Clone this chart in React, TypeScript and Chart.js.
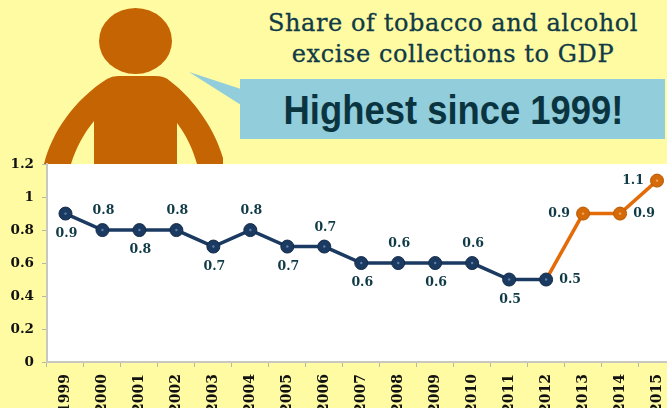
import React, { useEffect, useRef } from "react";
import { Chart, registerables } from "chart.js";

Chart.register(...registerables);

const years = ["1999","2000","2001","2002","2003","2004","2005","2006","2007","2008","2009","2010","2011","2012","2013","2014","2015"];
const shares = [0.9,0.8,0.8,0.8,0.7,0.8,0.7,0.7,0.6,0.6,0.6,0.6,0.5,0.5,0.9,0.9,1.1];
const labelTexts = ["0.9","0.8","0.8","0.8","0.7","0.8","0.7","0.7","0.6","0.6","0.6","0.6","0.5","0.5","0.9","0.9","1.1"];
const labelSides = ["below","above","below","above","below","above","below","above","below","above","below","above","below","right","left","right","left"];
const firstOrangeIndex = 14;

const NAVY = "#1b3a61";
const ORANGE = "#e36c09";
const TEXT = "#0f3a46";
const SERIF = "'DejaVu Serif', serif";

const plotBackground = {
  id: "plotBackground",
  beforeDraw(chart: any) {
    const { ctx, chartArea: a } = chart;
    ctx.save();
    ctx.fillStyle = "#ffffff";
    ctx.fillRect(a.left, a.top, a.right - a.left, a.bottom - a.top);
    ctx.restore();
  },
};

const pointLabels = {
  id: "pointLabels",
  afterDatasetsDraw(chart: any) {
    const { ctx } = chart;
    const pts = chart.getDatasetMeta(0).data;
    ctx.save();
    pts.forEach((p: any, i: number) => {
      ctx.fillStyle = i >= firstOrangeIndex ? "#f5a860" : "#5f7fa8";
      ctx.beginPath();
      ctx.arc(p.x, p.y, 1.2, 0, Math.PI * 2);
      ctx.fill();
      const side = labelSides[i];
      const dx = side === "left" ? -24 : side === "right" ? 24 : 1;
      const dy = side === "above" ? -19 : side === "below" ? 20 : 0;
      ctx.fillStyle = TEXT;
      ctx.font = `bold 12.5px ${SERIF}`;
      ctx.textAlign = "center";
      ctx.textBaseline = "middle";
      ctx.fillText(labelTexts[i], p.x + dx, p.y + dy);
    });
    ctx.restore();
  },
};

export default function App() {
  const ref = useRef<HTMLCanvasElement>(null);
  useEffect(() => {
    const chart = new Chart(ref.current!, {
      type: "line",
      data: {
        labels: years,
        datasets: [
          {
            data: shares,
            borderColor: NAVY,
            borderWidth: 3.5,
            tension: 0,
            clip: false,
            pointRadius: 6.5,
            pointBorderWidth: 1,
            pointBackgroundColor: shares.map((_, i) => (i >= firstOrangeIndex ? "#d46a08" : "#1b3a61")),
            pointBorderColor: shares.map((_, i) => (i >= firstOrangeIndex ? "#b85a05" : "#142c4a")),
            segment: {
              borderColor: (c: any) => (c.p1DataIndex >= firstOrangeIndex ? ORANGE : NAVY),
            },
          },
        ],
      },
      options: {
        responsive: false,
        animation: false,
        devicePixelRatio: 1,
        layout: { padding: { top: 11, left: 0, right: 0, bottom: 0 } },
        plugins: { legend: { display: false }, tooltip: { enabled: false }, title: { display: false } },
        scales: {
          x: {
            type: "category",
            offset: true,
            afterFit: (s: any) => { s.height = 68; },
            border: { color: "#c8c8c0", width: 2 },
            grid: { drawOnChartArea: false, drawTicks: true, tickLength: 5, color: "#b8b8a8", offset: true },
            ticks: {
              minRotation: 90,
              maxRotation: 90,
              autoSkip: false,
              padding: 7,
              color: "#111111",
              font: { family: SERIF, size: 14, weight: "bold" },
            },
          },
          y: {
            min: 0,
            max: 1.2,
            afterFit: (s: any) => { s.width = 47; },
            border: { color: "#c8c8c0", width: 2 },
            grid: { drawOnChartArea: false, drawTicks: true, tickLength: 5, color: "#b8b8a8" },
            ticks: {
              stepSize: 0.2,
              padding: 8,
              color: "#111111",
              font: { family: SERIF, size: 13.5, weight: "bold" },
              callback: (v: any) => String(Number(Number(v).toFixed(1))),
            },
          },
        },
      },
      plugins: [plotBackground, pointLabels],
    } as any);
    return () => chart.destroy();
  }, []);

  return (
    <div style={{ position: "fixed", left: 0, top: 0, width: 667, height: 408, overflow: "hidden", background: "#fffba3" }}>
      <svg width={667} height={408} style={{ position: "absolute", left: 0, top: 0 }}>
        <ellipse cx={135.5} cy={41} rx={36.5} ry={33} fill="#c46403" />
        <path
          d="M44 164 C52 132 74 100 107 79 Q112 76 118 76 L155 76 Q165 76 170 81 C195 100 215 130 223 158 L223 164 L197 164 C193 150 187 136 177 123 L177 164 L94 164 L94 121 C84 133 76 148 71 164 Z"
          fill="#c46403"
        />
        <polygon points="189,72 241,89 241,105" fill="#92cddc" />
        <rect x={240} y={79} width={425} height={60} fill="#92cddc" />
      </svg>
      <div style={{ position: "absolute", left: 240, top: 8, width: 426, textAlign: "center", fontFamily: SERIF, fontSize: 24, lineHeight: "31px", color: TEXT, letterSpacing: 0.6, whiteSpace: "nowrap", WebkitTextStroke: "0.3px #0f3a46" }}>
        Share of tobacco and alcohol
        <br />
        excise collections to GDP
      </div>
      <div style={{ position: "absolute", left: 240, top: 87, width: 425, textAlign: "center", fontFamily: "'Liberation Sans', sans-serif", fontWeight: "bold", fontSize: 40, lineHeight: "46px", color: "#0a3540", whiteSpace: "nowrap", transform: "translateX(1px) scaleX(0.91)" }}>
        Highest since 1999!
      </div>
      <canvas ref={ref} width={683} height={282} style={{ position: "absolute", left: 0, top: 148, display: "block", width: 683, height: 282 }} />
    </div>
  );
}
